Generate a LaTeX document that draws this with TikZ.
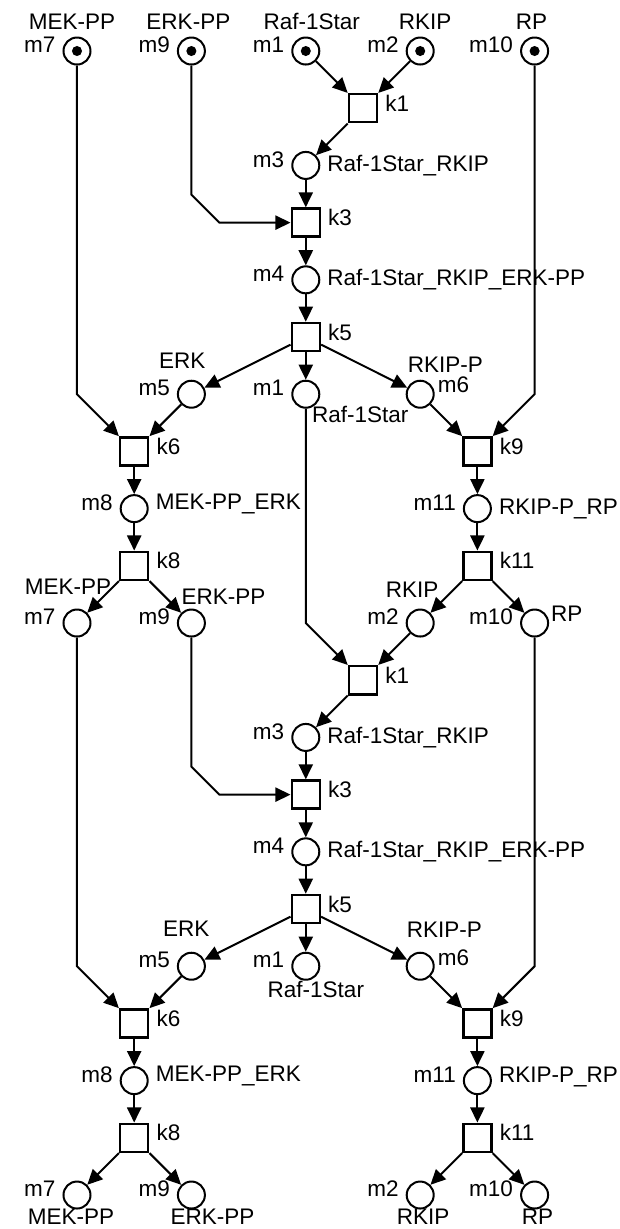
\documentclass[tikz,border=0pt]{standalone}
\usepackage{fontspec}
\setmainfont{Liberation Sans}
\usetikzlibrary{arrows.meta,positioning,calc}

\begin{document}
\begin{tikzpicture}[
  >={Triangle[length=7.5pt,width=7pt]},
  node distance=1cm and 1cm, on grid,
  every node/.style={font=\fontsize{11.2}{13.4}\selectfont},
  place/.style={draw, circle, line width=1pt, minimum size=0.472cm, inner sep=0pt},
  marked/.style={place, path picture={\fill (path picture bounding box.center) circle (2.5pt);}},
  trans/.style={draw, rectangle, line width=1.25pt, minimum size=0.49cm, inner sep=0pt},
  mtag/.style={yshift=3pt},
  ktag/.style={yshift=2.5pt},
  btag/.style={yshift=4pt},
  flow/.style={->, line width=1pt},
]
\useasboundingbox (-1.346,-20.594) rectangle (9.476,0.892);

% Initial marking
\node[marked, label={[xshift=-2.5pt]above:MEK-PP}, label={[mtag]left:m7}] (m7a) at (0,0) {};
\node[marked, right=2cm of m7a, label={[xshift=-1.5pt]above:ERK-PP}, label={[mtag]left:m9}] (m9a) {};
\node[marked, right=2cm of m9a, label={[xshift=3pt]above:Raf-1Star}, label={[mtag]left:m1}] (m1a) {};
\node[marked, right=2cm of m1a, label={[xshift=2.5pt]above:RKIP}, label={[mtag]left:m2}] (m2a) {};
\node[marked, right=2cm of m2a, label={[xshift=-1.5pt]above:RP}, label={[mtag]left:m10}] (m10a) {};

% First pass
\node[trans, below right=1cm and 1cm of m1a, label={[ktag]right:k1}] (k1a) {};
\node[place, below left=1cm and 1cm of k1a, label={[mtag]left:m3}, label=right:Raf-1Star\_RKIP] (m3a) {};
\node[trans, below=of m3a, label={[ktag]right:k3}] (k3a) {};
\node[place, below=of k3a, label={[mtag]left:m4}, label=right:Raf-1Star\_RKIP\_ERK-PP] (m4a) {};
\node[trans, below=of m4a, label={[ktag]right:k5}] (k5a) {};
\node[place, below left=1cm and 2cm of k5a, label={[xshift=-4.5pt,yshift=2pt]above:ERK}, label={[mtag]left:m5}] (m5a) {};
\node[place, below=of k5a, label={[mtag]left:m1}, label={[xshift=-5.5pt,yshift=2.5pt]below right:Raf-1Star}] (m1b) {};
\node[place, below right=1cm and 2cm of k5a, label={[xshift=12.5pt]above:RKIP-P}, label={[xshift=-2pt,yshift=4.5pt]right:m6}] (m6a) {};
\node[trans, below left=1cm and 1cm of m5a, label={[ktag]right:k6}] (k6a) {};
\node[trans, below right=1cm and 1cm of m6a, label={[ktag]right:k9}] (k9a) {};
\node[place, below=of k6a, label={[mtag]left:m8}, label={[yshift=2.5pt]right:MEK-PP\_ERK}] (m8a) {};
\node[place, below=of k9a, label={[mtag]left:m11}, label=right:RKIP-P\_RP] (m11a) {};
\node[trans, below=of m8a, label={[ktag]right:k8}] (k8a) {};
\node[trans, below=of m11a, label={[ktag]right:k11}] (k11a) {};
\node[place, below left=1cm and 1cm of k8a, label={[xshift=-4.5pt,yshift=3.5pt]above:MEK-PP}, label={[mtag]left:m7}] (m7b) {};
\node[place, below right=1cm and 1cm of k8a, label={[xshift=16pt,yshift=-1.5pt]above:ERK-PP}, label={[mtag]left:m9}] (m9b) {};
\node[place, below left=1cm and 1cm of k11a, label={[xshift=-4pt,yshift=2pt]above:RKIP}, label={[mtag]left:m2}] (m2b) {};
\node[place, below right=1cm and 1cm of k11a, label={[xshift=-2.5pt,yshift=4.5pt]right:RP}, label={[mtag]left:m10}] (m10b) {};

% Second pass
\node[trans, below left=1cm and 1cm of m2b, label={[ktag]right:k1}] (k1b) {};
\node[place, below left=1cm and 1cm of k1b, label={[mtag]left:m3}, label=right:Raf-1Star\_RKIP] (m3b) {};
\node[trans, below=of m3b, label={[ktag]right:k3}] (k3b) {};
\node[place, below=of k3b, label={[mtag]left:m4}, label=right:Raf-1Star\_RKIP\_ERK-PP] (m4b) {};
\node[trans, below=of m4b, label={[ktag]right:k5}] (k5b) {};
\node[place, below left=1cm and 2cm of k5b, label={[xshift=-2.5pt,yshift=4pt]above:ERK}, label={[mtag]left:m5}] (m5b) {};
\node[place, below=of k5b, label={[mtag]left:m1}, label={[xshift=5pt,yshift=3.5pt]below:Raf-1Star}] (m1c) {};
\node[place, below right=1cm and 2cm of k5b, label={[xshift=12pt,yshift=3.5pt]above:RKIP-P}, label={[xshift=-2pt,yshift=4pt]right:m6}] (m6b) {};
\node[trans, below left=1cm and 1cm of m5b, label={[ktag]right:k6}] (k6b) {};
\node[trans, below right=1cm and 1cm of m6b, label={[ktag]right:k9}] (k9b) {};
\node[place, below=of k6b, label={[mtag]left:m8}, label={[yshift=2.5pt]right:MEK-PP\_ERK}] (m8b) {};
\node[place, below=of k9b, label={[mtag]left:m11}, label={[yshift=2pt]right:RKIP-P\_RP}] (m11b) {};
\node[trans, below=of m8b, label={[ktag]right:k8}] (k8b) {};
\node[trans, below=of m11b, label={[ktag]right:k11}] (k11b) {};
\node[place, below left=1cm and 1cm of k8b, label={[mtag]left:m7}, label={[btag,xshift=-3pt]below:MEK-PP}] (m7c) {};
\node[place, below right=1cm and 1cm of k8b, label={[mtag]left:m9}, label={[btag,xshift=10.5pt]below:ERK-PP}] (m9c) {};
\node[place, below left=1cm and 1cm of k11b, label={[mtag]left:m2}, label={[btag,xshift=1.5pt]below:RKIP}] (m2c) {};
\node[place, below right=1cm and 1cm of k11b, label={[mtag]left:m10}, label={[btag,xshift=1.5pt]below:RP}] (m10c) {};

% Arcs, first pass
\draw[flow] (m1a) -- (k1a);
\draw[flow] (m2a) -- (k1a);
\draw[flow] (k1a) -- (m3a);
\draw[flow] (m3a) -- (k3a);
\draw[flow] (m9a) -- ($(m9a |- k3a)+(0,0.49)$) -- ($(m9a |- k3a)+(0.49,0)$) -- (k3a);
\draw[flow] (k3a) -- (m4a);
\draw[flow] (m4a) -- (k5a);
\draw[flow] (k5a) -- (m5a);
\draw[flow] (k5a) -- (m1b);
\draw[flow] (k5a) -- (m6a);
\draw[flow] (m7a) -- (m7a |- m5a) -- (k6a);
\draw[flow] (m5a) -- (k6a);
\draw[flow] (m6a) -- (k9a);
\draw[flow] (m10a) -- (m10a |- m6a) -- (k9a);
\draw[flow] (k6a) -- (m8a);
\draw[flow] (k9a) -- (m11a);
\draw[flow] (m8a) -- (k8a);
\draw[flow] (m11a) -- (k11a);
\draw[flow] (k8a) -- (m7b);
\draw[flow] (k8a) -- (m9b);
\draw[flow] (k11a) -- (m2b);
\draw[flow] (k11a) -- (m10b);

% Arcs, second pass
\draw[flow] (m1b) -- (m1b |- m2b) -- (k1b);
\draw[flow] (m2b) -- (k1b);
\draw[flow] (k1b) -- (m3b);
\draw[flow] (m3b) -- (k3b);
\draw[flow] (m9b) -- ($(m9b |- k3b)+(0,0.49)$) -- ($(m9b |- k3b)+(0.49,0)$) -- (k3b);
\draw[flow] (k3b) -- (m4b);
\draw[flow] (m4b) -- (k5b);
\draw[flow] (k5b) -- (m5b);
\draw[flow] (k5b) -- (m1c);
\draw[flow] (k5b) -- (m6b);
\draw[flow] (m7b) -- (m7b |- m5b) -- (k6b);
\draw[flow] (m5b) -- (k6b);
\draw[flow] (m6b) -- (k9b);
\draw[flow] (m10b) -- (m10b |- m6b) -- (k9b);
\draw[flow] (k6b) -- (m8b);
\draw[flow] (k9b) -- (m11b);
\draw[flow] (m8b) -- (k8b);
\draw[flow] (m11b) -- (k11b);
\draw[flow] (k8b) -- (m7c);
\draw[flow] (k8b) -- (m9c);
\draw[flow] (k11b) -- (m2c);
\draw[flow] (k11b) -- (m10c);
\end{tikzpicture}
\end{document}
